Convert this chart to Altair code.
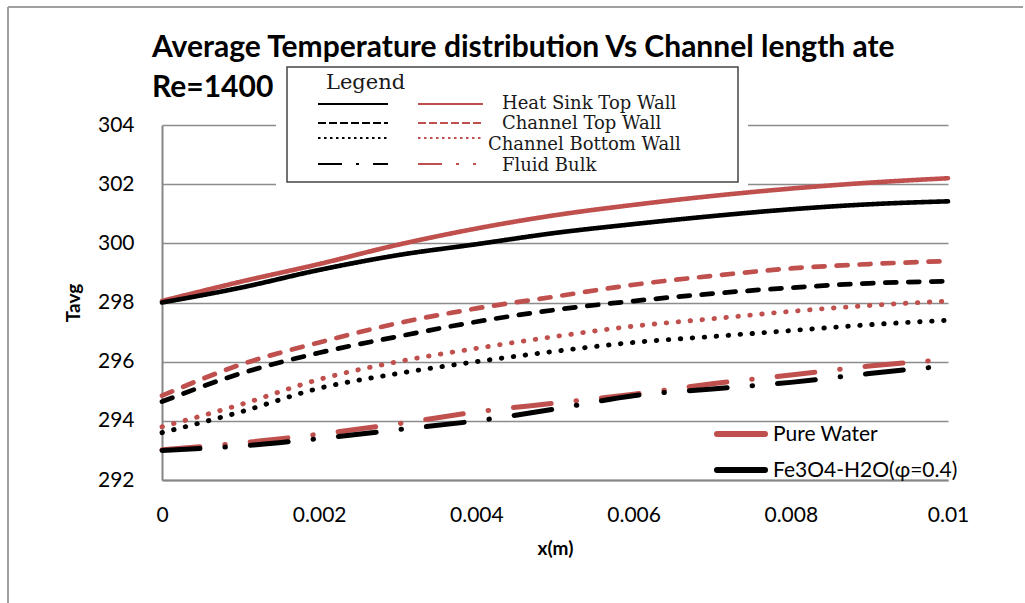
import altair as alt
import pandas as pd

# ---------------- data ----------------
x_m = [0, 0.001, 0.002, 0.003, 0.004, 0.005, 0.006, 0.007, 0.008, 0.009, 0.01]

pw_heat_sink = [298.05, 298.7, 299.3, 299.95, 300.5, 300.95, 301.3, 301.6, 301.85, 302.05, 302.2]
nf_heat_sink = [298.0, 298.5, 299.1, 299.6, 299.97, 300.35, 300.65, 300.92, 301.15, 301.32, 301.42]

pw_ch_top = [294.85, 295.9, 296.65, 297.3, 297.8, 298.2, 298.6, 298.9, 299.15, 299.3, 299.4]
nf_ch_top = [294.65, 295.6, 296.3, 296.85, 297.35, 297.75, 298.05, 298.3, 298.5, 298.65, 298.72]

pw_ch_bottom = [293.8, 294.55, 295.4, 296.0, 296.45, 296.85, 297.2, 297.45, 297.7, 297.9, 298.05]
nf_ch_bottom = [293.6, 294.3, 295.1, 295.6, 296.0, 296.35, 296.65, 296.85, 297.05, 297.25, 297.4]

pw_bulk = [293.02, 293.25, 293.55, 293.9, 294.3, 294.6, 294.9, 295.25, 295.55, 295.85, 296.08]
nf_bulk = [293.0, 293.15, 293.4, 293.7, 294.0, 294.4, 294.85, 295.08, 295.3, 295.6, 295.86]

fluids = ["Pure Water", "Fe3O4-H2O(\u03c6=0.4)"]
styles = ["Heat Sink Top Wall", "Channel Top Wall", "Channel Bottom Wall", "Fluid Bulk"]
title_lines = ["Average Temperature distribution Vs Channel length ate", "Re=1400"]
y_ticks = [292, 294, 296, 298, 300, 302, 304]
x_ticks = [0, 0.002, 0.004, 0.006, 0.008, 0.01]

series = {
    (fluids[0], styles[0]): pw_heat_sink,
    (fluids[1], styles[0]): nf_heat_sink,
    (fluids[0], styles[1]): pw_ch_top,
    (fluids[1], styles[1]): nf_ch_top,
    (fluids[0], styles[2]): pw_ch_bottom,
    (fluids[1], styles[2]): nf_ch_bottom,
    (fluids[0], styles[3]): pw_bulk,
    (fluids[1], styles[3]): nf_bulk,
}

rows = []
for (fl, st), vals in series.items():
    for xv, tv in zip(x_m, vals):
        rows.append({"x": xv, "T": tv, "fluid": fl, "style": st})
df = pd.DataFrame(rows)
one = pd.DataFrame({"k": [0]})  # single row for decorations

RED = "#c0504d"
BLACK = "#000000"

W, H = 786, 355

lines = alt.Chart(df).mark_line(strokeCap="round", interpolate="monotone").encode(
    x=alt.X("x:Q", scale=alt.Scale(domain=[0, 0.01], nice=False),
            axis=alt.Axis(values=x_ticks, format="~g", title="x(m)", grid=False, labelFlush=False,
                          labelPadding=24, titlePadding=14)),
    y=alt.Y("T:Q", scale=alt.Scale(domain=[292, 304], nice=False, zero=False),
            axis=alt.Axis(values=y_ticks, title="Tavg", grid=True, labelPadding=28, titlePadding=14)),
    color=alt.Color("fluid:N", scale=alt.Scale(domain=fluids, range=[RED, BLACK]), legend=None),
    strokeDash=alt.StrokeDash("style:N", scale=alt.Scale(
        domain=styles, range=[[1, 0], [11, 12], [0.5, 11.5], [38, 25, 0.5, 25]]), legend=None),
    strokeWidth=alt.StrokeWidth("style:N", scale=alt.Scale(
        domain=styles, range=[4.6, 5, 5, 5.5]), legend=None),
    order=alt.Order("fluid:N", sort="descending"),
)

# ---------- decorative legends (pixel positions relative to the plot area) ----------
def rule(x1, x2, y, color, dash, width=2.2, cap="butt"):
    return alt.Chart(one).mark_rule(color=color, strokeDash=dash, strokeWidth=width,
                                    strokeCap=cap).encode(
        x=alt.value(x1), x2=alt.value(x2), y=alt.value(y))

def label(text, x, y, size=18, font="DejaVu Serif", weight="normal", baseline="middle",
          color="#1a1a1a"):
    return alt.Chart(one).mark_text(text=text, align="left", baseline=baseline, font=font,
                                    fontSize=size, fontWeight=weight, color=color).encode(
        x=alt.value(x), y=alt.value(y))

mask = alt.Chart(one).mark_rect(fill="white").encode(
    x=alt.value(114), x2=alt.value(586), y=alt.value(-63), y2=alt.value(62))
box = alt.Chart(one).mark_rect(fill="white", stroke="#444444", strokeWidth=1.5).encode(
    x=alt.value(125), x2=alt.value(576), y=alt.value(-58), y2=alt.value(57))

legend_layers = [
    mask, box,
    label("Legend", 164, -42, size=21),
    rule(156, 226, -21, BLACK, [1, 0]),
    rule(256, 321, -21, RED, [1, 0]),
    label(styles[0], 340, -21),
    rule(156, 226, -2, BLACK, [8, 3]),
    rule(256, 321, -2, RED, [8, 3]),
    label(styles[1], 340, -1),
    rule(156, 226, 13, BLACK, [2.5, 3.5]),
    rule(256, 321, 13, RED, [2.5, 3.5]),
    label(styles[2], 326, 20),
    rule(156, 226, 39, BLACK, [24, 14, 3, 14, 24]),
    rule(256, 321, 39, RED, [24, 14, 3, 14, 3]),
    label(styles[3], 340, 41),
]

fluid_legend = [
    rule(555, 603, 309, RED, [1, 0], width=6, cap="round"),
    label(fluids[0], 611, 310, size=21, font="Lato", color="black"),
    rule(555, 603, 345, BLACK, [1, 0], width=6, cap="round"),
    label(fluids[1], 611, 346, size=21, font="Lato", color="black"),
]

title_layers = [
    label(title_lines[0], -10, -68, size=30, font="Lato", weight="bold",
          baseline="alphabetic", color="black"),
    label(title_lines[1], -10, -28, size=30, font="Lato", weight="bold",
          baseline="alphabetic", color="black"),
]

frame_left = alt.Chart(one).mark_rule(color="#a0a0a0", strokeWidth=2).encode(
    x=alt.value(-154), y=alt.value(-118), y2=alt.value(478))
frame_top = alt.Chart(one).mark_rule(color="#a0a0a0", strokeWidth=2).encode(
    x=alt.value(-154), x2=alt.value(861), y=alt.value(-118))

chart = alt.layer(frame_left, frame_top, lines, *legend_layers, *fluid_legend,
                  *title_layers).properties(
    width=W, height=H,
    background="white",
    autosize=alt.AutoSizeParams(type="none"),
    padding={"left": 162, "top": 125, "right": 77, "bottom": 123},
).configure_view(stroke=None).configure_axis(
    domainColor="#868686", domainWidth=2, gridColor="#8c8c8c", gridWidth=1.5,
    ticks=False, labelFont="Lato", labelFontSize=21, labelColor="black",
    titleFont="Lato", titleFontSize=19, titleFontWeight="bold", titleColor="black",
)

chart.save("out.html", embed_options={"renderer": "svg", "actions": False})
